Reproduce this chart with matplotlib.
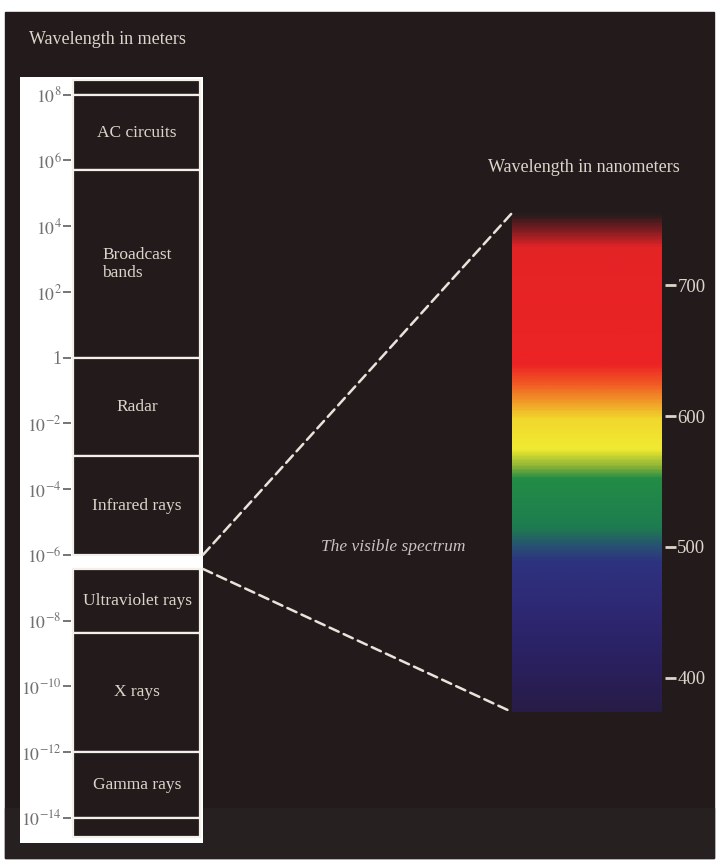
import numpy as np
import matplotlib
matplotlib.use("Agg")
import matplotlib.pyplot as plt
from matplotlib.patches import Rectangle, ConnectionPatch
from matplotlib.colors import LinearSegmentedColormap

# Bands of the electromagnetic spectrum (log10 of wavelength in meters)
band_names = ["", "AC circuits", "Broadcast\nbands", "Radar", "Infrared rays",
              "Ultraviolet rays", "X rays", "Gamma rays", ""]
band_top = [8.45, 8.0, 5.7, 0.0, -3.0, -6.43, -8.38, -12.0, -14.0]
band_bottom = [8.0, 5.7, 0.0, -3.0, -6.0, -8.38, -12.0, -14.0, -14.6]

# visible gap between infrared and ultraviolet
visible_top = -6.0
visible_bottom = -6.43

# tick exponents on the meters scale
meter_exponents = [8, 6, 4, 2, 0, -2, -4, -6, -8, -10, -12, -14]
meter_labels = ["1" if e == 0 else "$10^{%d}$" % e for e in meter_exponents]

# visible spectrum colour stops (wavelength in nm, rgb)
spectrum_nm = [374, 410, 450, 488, 500, 515, 552, 563, 575, 598, 610, 625, 640, 730, 744, 755]
spectrum_rgb = [(40, 28, 70), (42, 32, 95), (46, 40, 115), (46, 50, 128), (40, 80, 115),
                (30, 125, 80), (35, 140, 70), (150, 185, 55), (240, 235, 50), (242, 215, 45),
                (240, 160, 40), (240, 90, 35), (236, 35, 36), (228, 35, 38), (120, 28, 32),
                (40, 27, 27)]
nm_ticks = [400, 500, 600, 700]

W, H = 727, 865
dark = "#231b1b"
light = "#ddd5cb"
serif = "Liberation Serif"
plt.rcParams["mathtext.fontset"] = "stix"

fig = plt.figure(figsize=(W / 100, H / 100), dpi=100)
fig.patch.set_facecolor("white")


def box(x0, y0, x1, y1):
    # pixel box -> figure rect
    return [x0 / W, 1 - y1 / H, (x1 - x0) / W, (y1 - y0) / H]


# dark scanned page
fig.add_artist(Rectangle((5 / W, 1 - 858 / H), 709 / W, 846 / H,
                         transform=fig.transFigure, color=dark, zorder=0))
fig.add_artist(Rectangle((5 / W, 1 - 858 / H), 709 / W, 50 / H,
                         transform=fig.transFigure, color="#272020", zorder=0))

# ---- left panel: wavelength in meters
ax1 = fig.add_axes(box(20, 77, 203, 843))
ax1.set_facecolor("white")
ax1.set_xlim(0, 1)
ax1.set_ylim(-14.77, 8.54)
heights = [t - b for t, b in zip(band_top, band_bottom)]
ax1.bar(0.29, heights, width=0.695, bottom=band_bottom, align="edge",
        color=dark, edgecolor="#f3f0ea", linewidth=1.6)
for name, t, b in zip(band_names, band_top, band_bottom):
    if name:
        ax1.text(0.64, (t + b) / 2, name, ha="center", va="center",
                 multialignment="left", color=light, fontsize=12.5, family=serif)

for s in ["top", "right", "bottom"]:
    ax1.spines[s].set_visible(False)
ax1.spines["left"].set_position(("data", 0.28))
ax1.spines["left"].set_visible(False)
ax1.set_xticks([])
ax1.set_yticks(meter_exponents)
ax1.set_yticklabels(meter_labels, family=serif, fontsize=12.8)
ax1.tick_params(axis="y", direction="out", length=6, width=1.3, pad=1,
                color="#6a6a6a", labelcolor="#707070")

fig.text(107 / W, 1 - 40 / H, "Wavelength in meters", ha="center", va="center",
         color=light, fontsize=13, family=serif)

# ---- right panel: the visible spectrum
ax2 = fig.add_axes(box(512, 213, 662, 712))
lo, hi = spectrum_nm[0], spectrum_nm[-1]
cmap = LinearSegmentedColormap.from_list(
    "vis", [((n - lo) / (hi - lo), tuple(c / 255 for c in rgb))
            for n, rgb in zip(spectrum_nm, spectrum_rgb)])
grad = np.linspace(lo, hi, 400).reshape(-1, 1)
ax2.imshow(grad, cmap=cmap, vmin=lo, vmax=hi, origin="lower",
           extent=[0, 1, lo, hi], aspect="auto")
ax2.set_xlim(0, 1)
ax2.set_ylim(lo, hi)
for s in ax2.spines.values():
    s.set_visible(False)
ax2.spines["right"].set_position(("outward", 2))
ax2.set_xticks([])
ax2.yaxis.tick_right()
ax2.set_yticks(nm_ticks)
ax2.set_yticklabels([str(n) for n in nm_ticks], family=serif, fontsize=13.5)
ax2.tick_params(axis="y", direction="out", length=8, width=2, pad=1,
                color=light, labelcolor=light)

fig.text(584 / W, 1 - 168 / H, "Wavelength in nanometers", ha="center", va="center",
         color=light, fontsize=13, family=serif)
fig.text(393 / W, 1 - 547 / H, "The visible spectrum", ha="center", va="center",
         color="#cbc1c1", fontsize=12.5, family=serif, style="italic")

# dashed lines from the visible gap to the spectrum
for ya, yb in [(visible_top, hi), (visible_bottom, lo)]:
    con = ConnectionPatch(xyA=(1.0, ya), coordsA=ax1.transData,
                          xyB=(0.0, yb), coordsB=ax2.transData,
                          color="#e8e4dc", linewidth=1.8, linestyle=(0, (4, 2.2)))
    fig.add_artist(con)

fig.savefig("out.png", dpi=100, facecolor=fig.get_facecolor())
